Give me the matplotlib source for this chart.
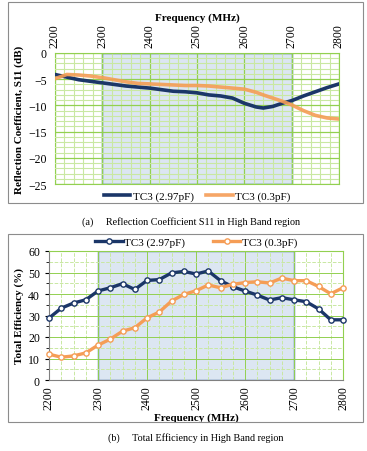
import numpy as np
import matplotlib
matplotlib.use('Agg')
import matplotlib.pyplot as plt
from matplotlib.patches import Rectangle
from matplotlib.ticker import MultipleLocator

plt.rcParams['font.family'] = ['Liberation Serif', 'DejaVu Serif']

# S11 curves
s11_freq = [2200, 2225, 2250, 2275, 2300, 2325, 2350, 2375, 2400, 2425, 2450, 2475, 2500,
            2525, 2550, 2575, 2600, 2625, 2640, 2660, 2680, 2700, 2725, 2750, 2775, 2800]
s11_hi = [-4.1, -4.6, -5.1, -5.4, -5.7, -6.0, -6.3, -6.5, -6.7, -7.0, -7.3, -7.4, -7.6,
          -8.0, -8.2, -8.6, -9.6, -10.3, -10.5, -10.2, -9.6, -9.1, -8.2, -7.4, -6.6, -5.9]
s11_lo = [-4.9, -4.1, -4.2, -4.4, -4.7, -5.1, -5.5, -5.8, -5.9, -6.0, -6.1, -6.2, -6.2,
          -6.3, -6.5, -6.7, -6.9, -7.5, -8.0, -8.6, -9.2, -9.9, -11.0, -11.9, -12.4, -12.6]

# Total efficiency (markers every 25 MHz)
eff_freq = list(range(2200, 2801, 25))
eff_hi = [28.8, 33.4, 35.8, 37.3, 41.4, 42.9, 44.8, 42.1, 46.3, 46.7, 49.8, 50.5, 49.3,
          50.7, 46.2, 43.4, 41.4, 39.5, 37.2, 38.3, 37.3, 36.4, 33.1, 28.0, 28.0]
eff_lo = [12.0, 10.6, 11.2, 12.6, 16.2, 19.0, 22.7, 24.3, 28.9, 31.6, 36.7, 39.8, 41.5,
          44.2, 42.9, 44.5, 45.3, 45.7, 45.1, 47.4, 46.2, 46.2, 43.5, 40.1, 42.9]

labels = ['TC3 (2.97pF)', 'TC3 (0.3pF)']
band = (2300, 2700)

navy = '#1B3668'
orange = '#F59D56'
g_major = '#92D050'
g_minor = '#C9E8A2'
band_face = '#DCE6F2'
band_edge = '#3F6FA8'

W, H = 367, 452
fig = plt.figure(figsize=(W / 100, H / 100), dpi=100)


def fx(px):
    return px / W


def fy(py):
    return 1 - py / H


# outer frames
for top, bot in [(3, 204), (235, 423)]:
    fig.add_artist(Rectangle((fx(8), fy(bot)), fx(355), (bot - top) / H,
                             transform=fig.transFigure, fill=False,
                             edgecolor='#8C8C8C', linewidth=0.8))

# ---- (a) reflection coefficient
ax1 = fig.add_axes([fx(55), fy(185), fx(284), (185 - 54) / H])
ax1.axvspan(band[0], band[1], facecolor=band_face, edgecolor=band_edge, linewidth=1.0, zorder=1)
ax1.plot(s11_freq, s11_hi, color=navy, lw=2.6, label=labels[0], zorder=3)
ax1.plot(s11_freq, s11_lo, color=orange, lw=2.6, label=labels[1], zorder=3, alpha=0.9)
ax1.set_xlim(2200, 2800)
ax1.set_ylim(-25, 0)
ax1.xaxis.set_major_locator(MultipleLocator(100))
ax1.xaxis.set_minor_locator(MultipleLocator(20))
ax1.yaxis.set_major_locator(MultipleLocator(5))
ax1.yaxis.set_minor_locator(MultipleLocator(1))
ax1.grid(which='major', color=g_major, lw=0.9, zorder=2)
ax1.grid(which='minor', color=g_minor, lw=0.8, zorder=2)
ax1.set_axisbelow(False)
ax1.xaxis.tick_top()
ax1.xaxis.set_label_position('top')
ax1.tick_params(axis='x', which='both', length=0, labelsize=8.5, labelrotation=90, pad=4)
ax1.tick_params(axis='y', which='both', length=0, labelsize=8.5, pad=6)
for s in ax1.spines.values():
    s.set_color(g_major)
ax1.set_xlabel('Frequency (MHz)', fontsize=8, fontweight='bold', labelpad=3)
ax1.set_ylabel('Reflection Coefficient, S11 (dB)', fontsize=8, fontweight='bold', labelpad=3)
ax1.legend(loc='center', bbox_to_anchor=(0.5, -0.09), ncol=2, frameon=False,
           fontsize=8, handlelength=2.4, columnspacing=1.1, handletextpad=0.2)

fig.text(fx(82), fy(222), '(a)     Reflection Coefficient S11 in High Band region',
         fontsize=7.3, va='center', ha='left')

# ---- (b) total efficiency
ax2 = fig.add_axes([fx(49), fy(381), fx(294), (381 - 252) / H])
ax2.axvspan(band[0], band[1], facecolor=band_face, edgecolor=band_edge, linewidth=1.0, zorder=1)
ax2.plot(eff_freq, eff_hi, color=navy, lw=2.4, marker='o', ms=3.8, mfc='white',
         mec=navy, mew=1.0, label=labels[0], zorder=3, clip_on=False)
ax2.plot(eff_freq, eff_lo, color=orange, lw=2.4, marker='o', ms=3.8, mfc='white',
         mec=orange, mew=1.0, label=labels[1], zorder=3, clip_on=False)
ax2.set_xlim(2200, 2800)
ax2.set_ylim(0, 60)
ax2.xaxis.set_major_locator(MultipleLocator(100))
ax2.xaxis.set_minor_locator(MultipleLocator(25))
ax2.yaxis.set_major_locator(MultipleLocator(10))
ax2.yaxis.set_minor_locator(MultipleLocator(5))
ax2.grid(which='major', color=g_major, lw=0.7, zorder=2)
ax2.grid(which='minor', color=g_minor, lw=0.7, ls='--', zorder=2)
ax2.tick_params(axis='x', which='both', length=0, labelsize=8.5, labelrotation=90, pad=4)
ax2.tick_params(axis='y', which='major', length=3, labelsize=8.5, direction='out')
ax2.tick_params(axis='y', which='minor', length=2)
for s in ['top', 'right']:
    ax2.spines[s].set_color(g_major)
ax2.spines['left'].set_color('#808080')
ax2.spines['bottom'].set_color('#808080')
ax2.set_xlabel('Frequency (MHz)', fontsize=8, fontweight='bold', labelpad=2)
ax2.set_ylabel('Total Efficiency (%)', fontsize=8, fontweight='bold', labelpad=3)
ax2.legend(loc='center', bbox_to_anchor=(0.5, 1.07), ncol=2, frameon=False,
           fontsize=8, handlelength=2.5, columnspacing=2.5, handletextpad=0.1)

fig.text(fx(108), fy(438), '(b)     Total Efficiency in High Band region',
         fontsize=7.3, va='center', ha='left')

fig.savefig('out.png', dpi=100)
